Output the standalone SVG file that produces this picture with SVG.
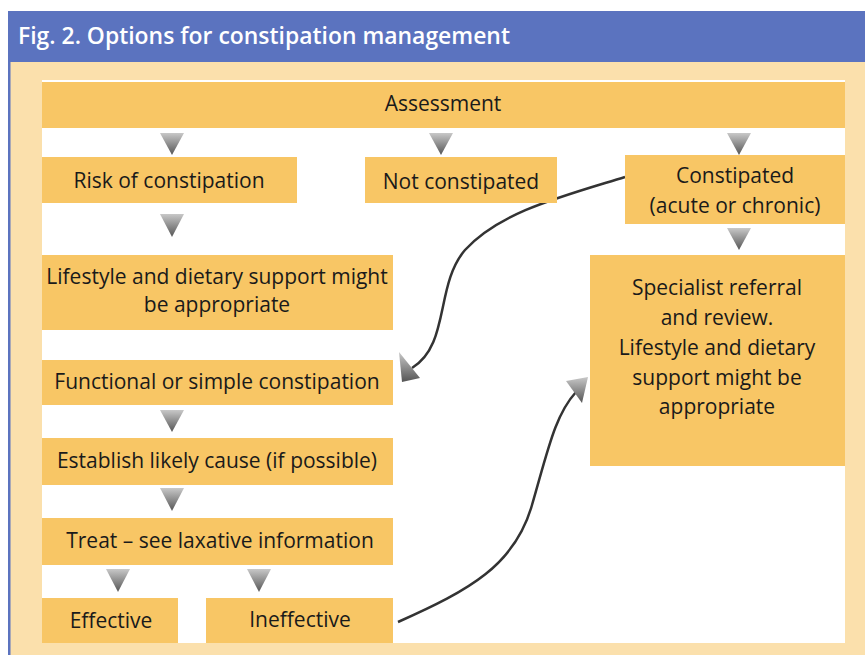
<svg xmlns="http://www.w3.org/2000/svg" width="865" height="655" viewBox="0 0 865 655">
<defs>
<linearGradient id="tri" x1="0" y1="0" x2="0" y2="1">
<stop offset="0" stop-color="#c8c8c8"/>
<stop offset="1" stop-color="#555"/>
</linearGradient>
<style>
.box{fill:#F8C665}
.t{font-family:"Open Sans","Noto Sans",sans-serif;font-size:21px;fill:#1a1a1a;text-anchor:middle}
.tri{fill:url(#tri)}
.con{fill:none;stroke:#333;stroke-width:2.5}
</style>
</defs>
<rect x="0" y="0" width="865" height="655" fill="#fff"/>
<rect x="8" y="11" width="857" height="644" fill="#FBE0AC"/>
<rect x="8" y="11" width="2.5" height="644" fill="#5B73BF"/>
<rect x="8" y="11" width="857" height="51" fill="#5B73BF"/>
<text x="18" y="44" font-family="Open Sans, sans-serif" font-weight="600" font-size="23" fill="#fff" textLength="492" lengthAdjust="spacingAndGlyphs">Fig. 2. Options for constipation management</text>
<rect x="42" y="80" width="803" height="563" fill="#fff"/>

<g id="connectors">
<polygon class="tri" points="160,133 184,133 172,155"/>
<polygon class="tri" points="429,133 453,133 441,155"/>
<polygon class="tri" points="727,133 751,133 739,155"/>
<polygon class="tri" points="160,214 184,214 172,237"/>
<polygon class="tri" points="727,228 751,228 739,250"/>
<polygon class="tri" points="160,410 184,410 172,432"/>
<polygon class="tri" points="160,488 184,488 172,511"/>
<polygon class="tri" points="106,569 130,569 118,592"/>
<polygon class="tri" points="247,569 271,569 259,592"/>
<path class="con" d="M625,177 C560,197 500,212 465,250 C435,285 450,345 412,368"/>
<polygon class="tri" points="399,352 420,378 402,382"/>
<path class="con" d="M398,622 C470,590 515,565 532,505 C548,450 555,415 576,392"/>
<polygon class="tri" points="566,381 588,377 582,403"/>
</g>

<g id="n-assessment"><rect class="box" x="42" y="82" width="803" height="46"/><text class="t" x="443" y="111">Assessment</text></g>
<g id="n-risk"><rect class="box" x="42" y="157" width="255" height="46"/><text class="t" x="169" y="188">Risk of constipation</text></g>
<g id="n-not"><rect class="box" x="365" y="157" width="192" height="46"/><text class="t" x="461" y="189">Not constipated</text></g>
<g id="n-constipated"><rect class="box" x="625" y="155" width="220" height="69"/><text class="t" x="735" y="183">Constipated</text><text class="t" x="735" y="213">(acute or chronic)</text></g>
<g id="n-lifestyle"><rect class="box" x="42" y="255" width="351" height="75"/><text class="t" x="217" y="284">Lifestyle and dietary support might</text><text class="t" x="217" y="312">be appropriate</text></g>
<g id="n-specialist"><rect class="box" x="590" y="255" width="255" height="211"/><text class="t" x="717" y="295">Specialist referral</text><text class="t" x="717" y="325">and review.</text><text class="t" x="717" y="355">Lifestyle and dietary</text><text class="t" x="717" y="385">support might be</text><text class="t" x="717" y="414">appropriate</text></g>
<g id="n-functional"><rect class="box" x="42" y="360" width="351" height="45"/><text class="t" x="217" y="389">Functional or simple constipation</text></g>
<g id="n-establish"><rect class="box" x="42" y="438" width="351" height="47"/><text class="t" x="217" y="468">Establish likely cause (if possible)</text></g>
<g id="n-treat"><rect class="box" x="42" y="518" width="351" height="47"/><text class="t" x="220" y="548">Treat – see laxative information</text></g>
<g id="n-effective"><rect class="box" x="42" y="598" width="136" height="45"/><text class="t" x="111" y="628">Effective</text></g>
<g id="n-ineffective"><rect class="box" x="206" y="598" width="187" height="45"/><text class="t" x="300" y="627">Ineffective</text></g>
</svg>
